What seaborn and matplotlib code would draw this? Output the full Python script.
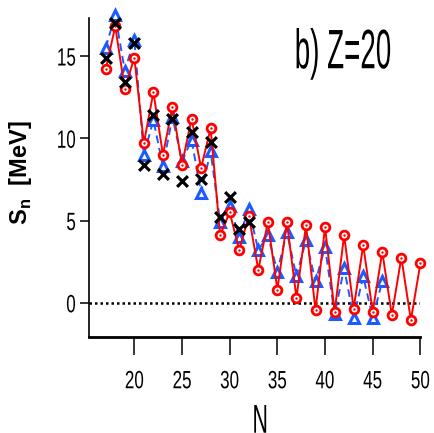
import numpy as np
import pandas as pd
import matplotlib
matplotlib.use("Agg")
import matplotlib.pyplot as plt
from matplotlib.patheffects import AbstractPathEffect
from matplotlib.transforms import Affine2D
import seaborn as sns

# Neutron separation energies for Z=20 isotopes
n_red = list(range(17, 51))
sn_red = [14.2, 16.8, 13.0, 14.9, 9.7, 12.8, 9.0, 11.9, 8.4, 11.2,
          8.2, 10.6, 4.1, 5.5, 3.2, 5.3, 2.0, 4.9, 0.8, 4.9,
          0.3, 4.7, -0.45, 4.6, -0.55, 4.1, -0.35, 3.5, -0.55, 3.1,
          -0.75, 2.75, -1.05, 2.4]

n_blue = list(range(17, 47))
sn_blue = [15.5, 17.5, 14.1, 16.0, 9.0, 11.1, 8.3, 11.3, 8.6, 9.9,
           6.7, 9.2, 4.9, 5.9, 4.0, 5.7, 3.2, 4.1, 1.9, 4.3,
           1.6, 3.8, 1.3, 3.4, -0.7, 2.1, -0.9, 1.6, -0.9, 1.3]

n_black = list(range(17, 33))
sn_black = [14.9, 17.0, 13.4, 15.8, 8.4, 11.4, 7.8, 11.2, 7.4, 10.4,
            7.5, 9.8, 5.2, 6.4, 4.5, 4.9]

x_ticks = [20, 25, 30, 35, 40, 45, 50]
y_ticks = [0, 5, 10, 15]


class Squeeze(AbstractPathEffect):
    """Draw text glyphs compressed horizontally (narrow lettering)."""

    def __init__(self, sx, frac):
        super().__init__()
        self.sx = sx
        self.frac = frac

    def draw_path(self, renderer, gc, tpath, affine, rgbFace=None):
        ext = tpath.get_extents()
        pivot = ext.x0 + self.frac * ext.width
        t = Affine2D().translate(-pivot, 0).scale(self.sx, 1).translate(pivot, 0)
        renderer.draw_path(gc, tpath, t + affine, rgbFace)


sns.set_style("ticks")
plt.rcParams["font.family"] = ["Liberation Sans", "DejaVu Sans"]
plt.rcParams["text.color"] = "black"
plt.rcParams["axes.labelcolor"] = "black"

df_red = pd.DataFrame({"N": n_red, "Sn": sn_red})
df_blue = pd.DataFrame({"N": n_blue, "Sn": sn_blue})
df_black = pd.DataFrame({"N": n_black, "Sn": sn_black})

fig = plt.figure(figsize=(4.34, 4.33), dpi=100)
ax = fig.add_axes([0.2058, 0.221, 0.9687 - 0.2058, 0.958 - 0.221])

blue = "#1a5cff"
sns.lineplot(data=df_blue, x="N", y="Sn", ax=ax, estimator=None, sort=False,
             color=blue, lw=1.4, linestyle=(0, (4, 2.5)), marker="^", ms=7.5,
             mfc="white", mec=blue, mew=2.2, clip_on=False, zorder=3)
sns.lineplot(data=df_red, x="N", y="Sn", ax=ax, estimator=None, sort=False,
             color="#ff0000", lw=1.4, marker="o", ms=6.3, mfc="white",
             mec="#ff0000", mew=2.0, clip_on=False, zorder=4)
sns.scatterplot(data=df_red, x="N", y="Sn", ax=ax, color="#ff0000", s=3,
                linewidth=0, clip_on=False, zorder=5)
sns.scatterplot(data=df_black, x="N", y="Sn", ax=ax, color="black", marker="x",
                s=60, linewidth=2.3, clip_on=False, zorder=6)

ax.axhline(0, color="black", lw=1.8, linestyle=(0, (1, 1.2)), zorder=2)

ax.set_xlim(15.28, 50)
ax.set_ylim(-2.1, 17.3)
ax.set_xticks(x_ticks)
ax.set_yticks(y_ticks)
ax.set_xticklabels([str(t) for t in x_ticks])
ax.set_yticklabels([str(t) for t in y_ticks])

for s in ["top", "right"]:
    ax.spines[s].set_visible(False)
ax.spines["left"].set_linewidth(1.2)
ax.spines["bottom"].set_linewidth(2.0)
ax.spines["left"].set_color("black")
ax.spines["bottom"].set_color("black")
ax.tick_params(axis="y", direction="out", length=6.5, width=1.1, pad=3,
               labelsize=18, colors="black")
ax.tick_params(axis="x", direction="out", length=13, width=1.1, pad=10,
               labelsize=18, colors="black")
for lab in ax.get_yticklabels():
    lab.set_path_effects([Squeeze(0.68, 1.0)])
for lab in ax.get_xticklabels():
    lab.set_path_effects([Squeeze(0.68, 0.5)])

xl = ax.set_xlabel("N", fontsize=29)
xl.set_path_effects([Squeeze(0.53, 0.5)])
ax.xaxis.set_label_coords(0.516, -0.205)
ax.xaxis.label.set_va("top")

ax.set_ylabel(r"S$_\mathregular{n}$  [MeV]", fontsize=17, fontweight="bold")
ax.yaxis.set_label_coords(-0.167, 0.515)

ax.text(0.914, 0.887, "b) Z=20", transform=ax.transAxes, fontsize=40,
        ha="right", va="center", path_effects=[Squeeze(0.5, 1.0)])

fig.savefig("out.png", dpi=100)
